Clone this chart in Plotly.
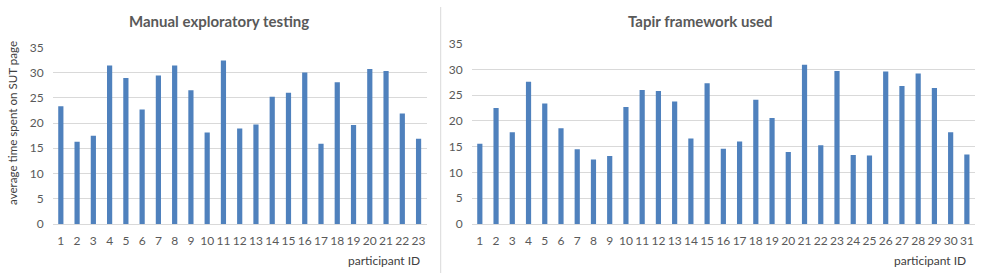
import plotly.graph_objects as go

manual_ids = list(range(1, 24))
manual_values = [23.3, 16.3, 17.5, 31.4, 28.9, 22.7, 29.4, 31.4, 26.5, 18.1,
                 32.4, 18.9, 19.7, 25.2, 26.0, 30.0, 15.9, 28.1, 19.6, 30.7,
                 30.3, 21.9, 16.9]

tapir_ids = list(range(1, 32))
tapir_values = [15.6, 22.5, 17.8, 27.6, 23.4, 18.6, 14.5, 12.5, 13.2, 22.7,
                26.0, 25.8, 23.8, 16.6, 27.3, 14.6, 16.0, 24.1, 20.6, 14.0,
                30.9, 15.3, 29.7, 13.4, 13.3, 29.6, 26.8, 29.2, 26.4, 17.8,
                13.5]

y_ticks = [0, 5, 10, 15, 20, 25, 30, 35]
titles = ["Manual exploratory testing", "Tapir framework used"]
y_title = "average time spent on SUT page"
x_title = "participant ID"

W, H = 981, 278
BAR = "#4f81bd"
GRID = "#d9d9d9"
TXT = "#595959"
FONT = "Lato, 'Open Sans', sans-serif"

fig = go.Figure()
fig.add_trace(go.Bar(x=manual_ids, y=manual_values, marker=dict(color=BAR, line=dict(width=0)),
                     xaxis="x", yaxis="y", showlegend=False))
fig.add_trace(go.Bar(x=tapir_ids, y=tapir_values, marker=dict(color=BAR, line=dict(width=0)),
                     xaxis="x2", yaxis="y2", showlegend=False))

def xa(domain, n, anchor):
    return dict(domain=domain, anchor=anchor, range=[0.5, n + 0.5], tickmode="array",
                tickvals=list(range(1, n + 1)), ticktext=[str(i) for i in range(1, n + 1)],
                showgrid=False, zeroline=False, showline=True, linecolor=GRID, linewidth=1,
                ticks="", ticklabelstandoff=6, tickfont=dict(size=12, color=TXT, family=FONT),
                automargin=False, fixedrange=True)

def ya(domain, anchor):
    return dict(domain=domain, anchor=anchor, range=[0, 35], tickmode="array",
                tickvals=y_ticks, ticktext=[str(v) for v in y_ticks],
                showgrid=True, gridcolor=GRID, gridwidth=1, zeroline=False, showline=False,
                ticks="", ticklabelstandoff=8, tickfont=dict(size=12, color=TXT, family=FONT),
                automargin=False, fixedrange=True)

fig.update_layout(
    width=W, height=H, autosize=False,
    margin=dict(l=0, r=0, t=0, b=0, pad=0, autoexpand=False),
    paper_bgcolor="white", plot_bgcolor="white",
    bargap=0.68,
    font=dict(family=FONT, color=TXT),
    xaxis=xa([52.7 / W, 426.7 / W], len(manual_ids), "y"),
    yaxis=ya([54 / H, 230.7 / H], "x"),
    xaxis2=xa([471.7 / W, 975 / W], len(tapir_ids), "y2"),
    yaxis2=ya([54 / H, 234.3 / H], "x2"),
    shapes=[dict(type="line", xref="paper", yref="paper", x0=440.7 / W, x1=440.7 / W,
                 y0=1 - 273 / H, y1=1 - 7 / H, line=dict(color=GRID, width=1))],
    annotations=[
        dict(text=f"<b>{titles[0]}</b>", x=218.5 / W, y=1 - 21 / H, xref="paper", yref="paper",
             showarrow=False, xanchor="center", yanchor="middle", font=dict(size=15, color=TXT)),
        dict(text=f"<b>{titles[1]}</b>", x=700 / W, y=1 - 21 / H, xref="paper", yref="paper",
             showarrow=False, xanchor="center", yanchor="middle", font=dict(size=15, color=TXT)),
        dict(text=x_title, x=422 / W, y=1 - 260 / H, xref="paper", yref="paper",
             showarrow=False, xanchor="right", yanchor="middle", font=dict(size=12, color="#404040")),
        dict(text=x_title, x=968 / W, y=1 - 260 / H, xref="paper", yref="paper",
             showarrow=False, xanchor="right", yanchor="middle", font=dict(size=12, color="#404040")),
        dict(text=y_title, x=12 / W, y=1 - 123 / H, xref="paper", yref="paper", textangle=-90,
             showarrow=False, xanchor="center", yanchor="middle", font=dict(size=11.6, color="#404040")),
    ],
)

fig.write_html("out.html", config={"displayModeBar": False, "responsive": False},
               post_script="document.body.style.margin='0';document.body.style.overflow='hidden';")
